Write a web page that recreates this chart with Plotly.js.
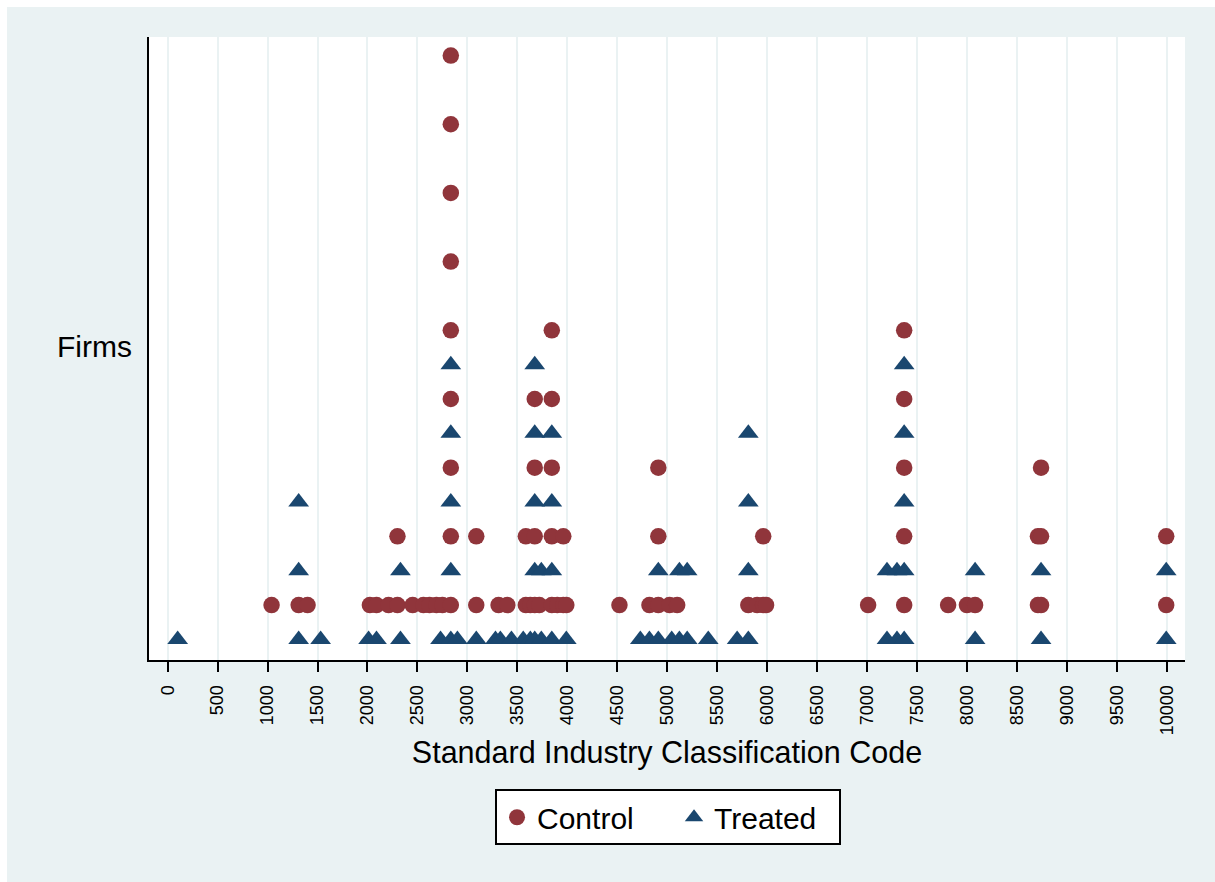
<!DOCTYPE html>
<html>
<head>
<meta charset="utf-8">
<script src="https://cdn.plot.ly/plotly-3.0.1.min.js"></script>
<style>
  html, body { margin: 0; padding: 0; background: #ffffff; overflow: hidden; }
  #chart { position: absolute; left: 7px; top: 7px; width: 1208px; height: 875px; }
</style>
</head>
<body>
<div id="chart"></div>
<script>
// SIC codes and number of firms at each code, by group
const controlSIC = [1040, 1311, 1400, 2024, 2090, 2211, 2300, 2452, 2560, 2621, 2690, 2750, 2834,
  3089, 3312, 3400, 3585, 3630, 3674, 3720, 3845, 3900, 3960, 3990,
  4522, 4822, 4911, 5023, 5100, 5812, 5900, 5961, 5990,
  7011, 7372, 7812, 8000, 8082, 8711, 8742, 9995];
const controlCount = [1, 1, 1, 1, 1, 1, 2, 1, 1, 1, 1, 1, 9,
  2, 1, 1, 2, 1, 4, 1, 5, 1, 2, 1,
  1, 1, 3, 1, 1, 1, 1, 2, 1,
  1, 5, 1, 1, 1, 2, 3, 2];

const treatedSIC = [100, 1311, 1531, 2011, 2090, 2330, 2731, 2834, 2900,
  3089, 3281, 3330, 3441, 3559, 3630, 3674, 3740, 3845, 3990,
  4731, 4822, 4911, 5045, 5122, 5200, 5411, 5700, 5812,
  7200, 7300, 7372, 8082, 8742, 9995];
const treatedCount = [1, 3, 1, 1, 1, 2, 1, 5, 1,
  1, 1, 1, 1, 1, 1, 5, 2, 4, 1,
  1, 1, 2, 1, 2, 2, 1, 1, 4,
  2, 2, 5, 2, 2, 2];

const groupNames = ['Control', 'Treated'];
const xTickValues = [];
for (let v = 0; v <= 10000; v += 500) xTickValues.push(v);

// Stack the firms at each code; the two groups interleave rows
// (treated on even rows, control on odd rows).
function stack(codes, counts, rowOffset) {
  const xs = [], ys = [];
  codes.forEach((c, i) => {
    for (let k = 0; k < counts[i]; k++) {
      xs.push(c);
      ys.push(2 * k + rowOffset);
    }
  });
  return { xs, ys };
}

const ctl = stack(controlSIC, controlCount, 1);
const trt = stack(treatedSIC, treatedCount, 0);

const FONT = 'Liberation Sans, Arial, Helvetica, sans-serif';
const BG = '#EAF2F3';

const traces = [
  {
    type: 'scatter', mode: 'markers', name: groupNames[0],
    x: ctl.xs, y: ctl.ys,
    marker: { symbol: 'circle', size: 16.5, color: '#90353B', line: { width: 0 } },
    legendwidth: 132,
    hoverinfo: 'x+name'
  },
  {
    type: 'scatter', mode: 'markers', name: groupNames[1],
    x: trt.xs, y: trt.ys,
    marker: { symbol: 'triangle-up', size: 18, color: '#1A476F', line: { width: 0 } },
    legendwidth: 120,
    hoverinfo: 'x+name'
  }
];

const layout = {
  width: 1208, height: 875,
  margin: { l: 142, r: 30, t: 30, b: 222, pad: 0 },
  paper_bgcolor: BG,
  plot_bgcolor: '#ffffff',
  font: { family: FONT, color: '#000000' },
  showlegend: true,
  xaxis: {
    range: [-187, 10183],
    tickmode: 'array',
    tickvals: xTickValues,
    ticktext: xTickValues.map(String),
    tickangle: -90,
    tickfont: { family: FONT, size: 18, color: '#000000' },
    ticks: 'outside', ticklen: 10, tickwidth: 2, tickcolor: '#000000',
    ticklabelstandoff: 6,
    showgrid: true, gridcolor: BG, gridwidth: 2,
    zeroline: false,
    showline: true, linecolor: '#000000', linewidth: 2,
    title: { text: 'Standard Industry Classification Code', font: { family: FONT, size: 30.5, color: '#000000' }, standoff: 7 },
    automargin: false
  },
  yaxis: {
    range: [-0.6, 17.54],
    showticklabels: false,
    ticks: '',
    showgrid: false,
    zeroline: false,
    showline: true, linecolor: '#000000', linewidth: 2,
    automargin: false
  },
  annotations: [
    {
      text: 'Firms', xref: 'paper', yref: 'paper',
      x: -0.0526, y: 0.504, xanchor: 'center', yanchor: 'middle',
      showarrow: false, font: { family: FONT, size: 30, color: '#000000' }
    }
  ],
  legend: {
    orientation: 'h',
    x: 0.334, y: -0.2075, xanchor: 'left', yanchor: 'top',
    bgcolor: '#ffffff', bordercolor: '#000000', borderwidth: 2,
    font: { family: FONT, size: 30, color: '#000000' },
    entrywidthmode: 'pixels',
    itemclick: false, itemdoubleclick: false
  }
};

Plotly.newPlot('chart', traces, layout, { displayModeBar: false, staticPlot: true });
</script>
</body>
</html>
